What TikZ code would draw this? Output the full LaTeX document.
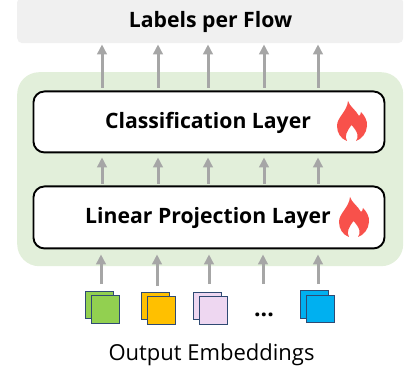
\documentclass[tikz,border=0pt]{standalone}
\usepackage{fontspec}
\setmainfont{Open Sans}
\usetikzlibrary{arrows.meta}
\definecolor{gbox}{HTML}{F0F0F0}
\definecolor{gpanel}{HTML}{E2EFDA}
\definecolor{arrowgray}{HTML}{A6A6A6}
\definecolor{sqedge}{HTML}{2F4A73}
\definecolor{flame}{HTML}{F8514B}
\definecolor{sqgreen}{HTML}{92D050}
\definecolor{sqorange}{HTML}{FFC000}
\definecolor{sqpink}{HTML}{EED7F1}
\definecolor{sqblue}{HTML}{00B0F0}
\tikzset{
  x=1pt,y=-1pt,
  layerbox/.style={draw=black,line width=1.9pt,fill=white,rounded corners=11pt,minimum width=351pt,anchor=north west,inner sep=0pt},
  flow/.style={draw=arrowgray,line width=3pt,-{Triangle[length=10pt,width=9.5pt]}},
  sq/.style={draw=sqedge,line width=1.2pt,minimum size=27.5pt,inner sep=0pt,anchor=north west,fill=#1},
  title/.style={font=\bfseries\fontsize{21.2}{24}\selectfont,inner sep=0pt,anchor=base},
  fl/.style={fill=flame},
  pics/fire/.style={code={
    \path[fl] (11,0) .. controls (13,6) and (19,9) .. (22,15)
      .. controls (23,14) and (24,13) .. (24,11)
      .. controls (28,15) and (30.5,20) .. (30,25)
      .. controls (29.5,32) and (25,38) .. (19,40)
      .. controls (22,36) and (21,31) .. (14.5,24)
      .. controls (10,30) and (7,35) .. (10,40)
      .. controls (4,38) and (0,32) .. (0,25)
      .. controls (0,16) and (10,11) .. (11,0) -- cycle;
  }}
}
\begin{document}
\begin{tikzpicture}
\useasboundingbox (0,0) rectangle (404,371);
\node[fill=gbox,rounded corners=5pt,minimum width=386pt,minimum height=46pt,anchor=north west,inner sep=0pt] (labels) at (17,-3) {};
\node[title] (labtxt) at (210.5,28) {Labels per Flow};
\node[fill=gpanel,rounded corners=22pt,minimum width=386pt,minimum height=194pt,anchor=north west,inner sep=0pt] (panel) at (17,72) {};
\node[layerbox,minimum height=61pt] (cls) at (32.5,90.5) {};
\node[layerbox,minimum height=62pt] (lin) at (32.5,185.5) {};
\node[title] (clstxt) at (208,128.5) {Classification Layer};
\node[title] (lintxt) at (208,223.5) {Linear Projection Layer};
\pic at (337,101) {fire};
\pic at (339,197) {fire};
% arrows
\foreach \i/\x in {1/102,2/158,3/208,4/264,5/318}{
  \coordinate (t\i) at (\x,90);
  \draw[flow,shorten <=2pt,shorten >=1pt] (t\i) -- (t\i |- labels.south);
  \coordinate (m\i) at (\x,185);
  \draw[flow,shorten <=1pt,shorten >=4pt] (m\i) -- (m\i |- cls.south);
}
\foreach \i/\x/\y in {1/101/284,2/157/286,3/209/284,4/263/284,5/318/284}{
  \coordinate (b\i) at (\x,\y);
  \draw[flow,shorten >=5pt] (b\i) -- (b\i |- lin.south);
}
% embeddings
\foreach \n/\x/\y/\c in {e1/85/290.5/sqgreen,e2/141/291.5/sqorange,e3/193/291.5/sqpink,e5/300/290/sqblue}{
  \node[sq=\c] (\n b) at (\x,\y) {};
  \node[sq=\c] (\n f) at ([xshift=6pt,yshift=-4.5pt]\n b.north west) {};
}
\node[font=\bfseries\fontsize{23}{26}\selectfont,inner sep=0pt,anchor=base] (dots) at (264,316.5) {...};
\node[font=\fontsize{22}{26}\selectfont,inner sep=0pt,anchor=base] (cap) at (211.5,360) {Output Embeddings};
\end{tikzpicture}
\end{document}
